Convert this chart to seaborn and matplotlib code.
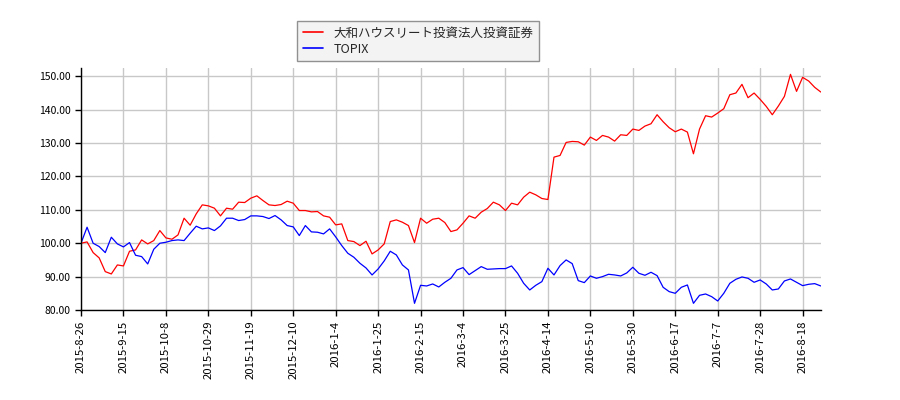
import numpy as np
import pandas as pd
import matplotlib
matplotlib.use("Agg")
import matplotlib.pyplot as plt
import matplotlib.ticker as tkr
import seaborn as sns

# trading-day index (every 2nd session from 2015-8-26)
days = list(range(0, 245, 2))

reit = [100.0, 100.4, 97.2, 95.6, 91.5, 90.8, 93.5, 93.2, 97.6, 98.0,
        101.0, 99.8, 100.8, 103.8, 101.6, 101.2, 102.5, 107.5, 105.4, 108.8,
        111.5, 111.2, 110.5, 108.2, 110.5, 110.2, 112.3, 112.2, 113.5, 114.2,
        112.8, 111.5, 111.3, 111.6, 112.6, 112.0, 109.8, 109.8, 109.4, 109.5,
        108.2, 107.8, 105.5, 105.8, 100.8, 100.5, 99.3, 100.6, 96.8, 98.0,
        99.8, 106.5, 107.0, 106.3, 105.3, 100.2, 107.5, 106.0, 107.2, 107.5,
        106.2, 103.5, 104.0, 106.0, 108.2, 107.5, 109.3, 110.4, 112.3, 111.5,
        109.8, 112.0, 111.5, 113.8, 115.3, 114.5, 113.4, 113.1, 125.8, 126.3,
        130.2, 130.5, 130.4, 129.4, 131.8, 130.8, 132.3, 131.8, 130.6, 132.5,
        132.3, 134.2, 133.8, 135.1, 135.8, 138.5, 136.4, 134.6, 133.4, 134.2,
        133.3, 126.8, 134.2, 138.2, 137.8, 139.0, 140.3, 144.5, 145.0, 147.6,
        143.6, 145.0, 143.1, 141.0, 138.5, 141.1, 144.0, 150.6, 145.5, 149.7,
        148.6, 146.7, 145.3]

topix = [100.0, 104.8, 100.0, 99.0, 97.2, 101.8, 99.8, 98.9, 100.2, 96.4,
         96.0, 93.8, 98.2, 100.0, 100.3, 100.8, 101.0, 100.8, 103.0, 105.1,
         104.3, 104.6, 103.8, 105.2, 107.5, 107.5, 106.8, 107.1, 108.2, 108.2,
         108.0, 107.4, 108.3, 107.0, 105.3, 104.9, 102.3, 105.3, 103.4, 103.3,
         102.8, 104.3, 101.9, 99.3, 97.0, 95.8, 94.0, 92.6, 90.5, 92.3,
         94.7, 97.6, 96.5, 93.5, 92.0, 82.0, 87.4, 87.2, 87.8, 86.9,
         88.3, 89.5, 92.0, 92.7, 90.6, 91.8, 93.0, 92.2, 92.3, 92.4,
         92.4, 93.2, 91.0, 88.0, 86.0, 87.4, 88.5, 92.5, 90.5, 93.3,
         95.0, 93.9, 88.8, 88.2, 90.2, 89.5, 90.0, 90.7, 90.5, 90.2,
         91.1, 92.8, 91.0, 90.4, 91.3, 90.3, 86.8, 85.5, 85.0, 86.8,
         87.5, 82.0, 84.4, 84.8, 84.0, 82.7, 85.0, 88.0, 89.2, 89.9,
         89.5, 88.3, 89.0, 87.8, 86.0, 86.3, 88.7, 89.3, 88.3, 87.3,
         87.7, 87.9, 87.2]

tick_days = list(range(0, 239, 14))
tick_labels = ["2015-8-26", "2015-9-15", "2015-10-8", "2015-10-29", "2015-11-19",
               "2015-12-10", "2016-1-4", "2016-1-25", "2016-2-15", "2016-3-4",
               "2016-3-25", "2016-4-14", "2016-5-10", "2016-5-30", "2016-6-17",
               "2016-7-7", "2016-7-28", "2016-8-18"]

name_reit = "大和ハウスリート投資法人投資証券"
name_topix = "TOPIX"


def main():
    sns.set_style("white")
    plt.rcParams['font.family'] = ['Noto Sans CJK JP', 'DejaVu Sans']

    df = pd.DataFrame({"day": days, name_reit: reit, name_topix: topix})
    long = df.melt(id_vars="day", var_name="series", value_name="value")

    fig = plt.figure(figsize=(9, 4), dpi=100)
    ax = fig.add_axes([0.09, 0.225, 0.822, 0.605])
    sns.lineplot(data=long, x="day", y="value", hue="series",
                 palette={name_reit: "red", name_topix: "blue"},
                 linewidth=0.9, ax=ax)

    ax.set_xlim(0, 244)
    ax.set_ylim(80, 152.5)
    ax.set_xticks(tick_days)
    ax.set_xticklabels(tick_labels, rotation=90)
    ax.yaxis.set_major_locator(tkr.MultipleLocator(10))
    ax.yaxis.set_major_formatter(tkr.FormatStrFormatter("%.2f"))
    ax.set_xlabel("")
    ax.set_ylabel("")
    ax.grid(True, color="#c8c8c8", linewidth=1)
    ax.set_axisbelow(True)
    for s in ["top", "right"]:
        ax.spines[s].set_visible(False)
    for s in ["left", "bottom"]:
        ax.spines[s].set_color("black")
        ax.spines[s].set_linewidth(1)
    ax.tick_params(axis="both", which="major", length=4, width=1,
                   direction="out", labelsize=7.5, colors="black",
                   left=True, bottom=True)
    ax.tick_params(axis="x", labelsize=8.2)

    handles, labels = ax.get_legend_handles_labels()
    ax.get_legend().remove()
    leg = fig.legend(handles, labels, loc="upper left",
                     bbox_to_anchor=(0.323, 0.963), fontsize=9,
                     frameon=True, fancybox=False, handlelength=1.6,
                     handletextpad=0.9, borderpad=0.45, labelspacing=0.25)
    leg.get_frame().set_facecolor("#f0f0f0")
    leg.get_frame().set_edgecolor("#777777")
    for ln in leg.get_lines():
        ln.set_linewidth(1.2)

    fig.savefig("out.png", dpi=100)


if __name__ == "__main__":
    main()
